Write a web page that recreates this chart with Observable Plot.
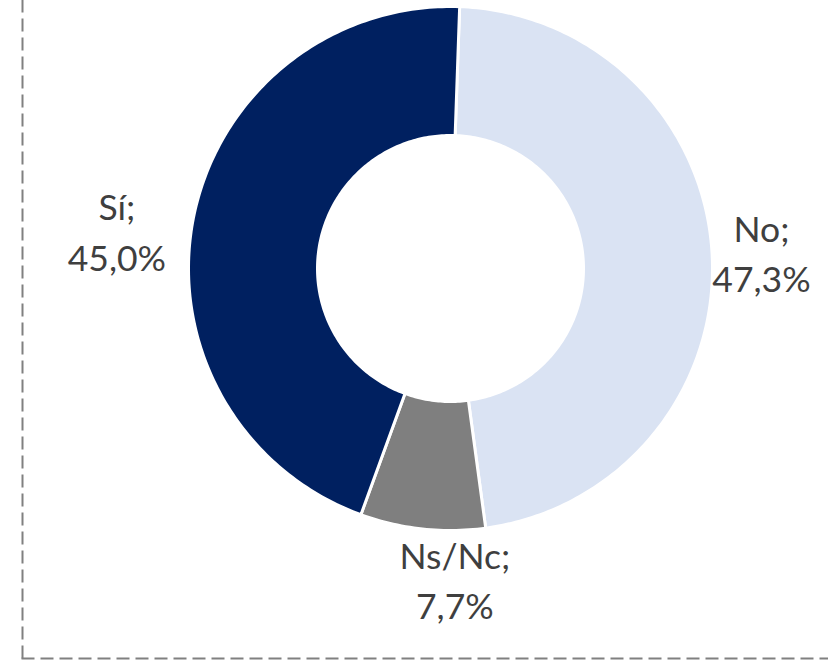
<!DOCTYPE html>
<html>
<head>
<meta charset="utf-8">
<script src="https://cdn.jsdelivr.net/npm/d3@7"></script>
<script src="https://cdn.jsdelivr.net/npm/@observablehq/plot@0.6"></script>
<style>
  html, body { margin: 0; padding: 0; background: #fff; }
  #chart { width: 828px; height: 660px; }
</style>
</head>
<body>
<div id="chart"></div>
<script>
// Data
const categories = ["No", "Ns/Nc", "Sí"];
const values = [47.3, 7.7, 45.0];
const valueLabels = ["47,3%", "7,7%", "45,0%"];
const colors = ["#DAE3F3", "#7F7F7F", "#002060"];

const W = 828, H = 660;
const cx = 450, cy = 268, R = 262;   // layout (pixels)
const innerRatio = 133 / 262;
const mL = 22, mB = 2;

const rows = categories.map((c, i) => ({category: c, value: values[i], label: `${c};\n${valueLabels[i]}`}));
const a0 = 2 * Math.PI / 180;
const pie = d3.pie().sort(null).value(d => d.value).startAngle(a0).endAngle(a0 + 2 * Math.PI);
const arcs = pie(rows);

// Build slice outlines (unit radius) from the pie angles
const pts = [];
for (const a of arcs) {
  const n = Math.max(8, Math.ceil((a.endAngle - a.startAngle) * 60));
  for (let k = 0; k <= n; k++) {
    const t = a.startAngle + (a.endAngle - a.startAngle) * k / n;
    pts.push({category: a.data.category, x: Math.sin(t), y: Math.cos(t)});
  }
  for (let k = n; k >= 0; k--) {
    const t = a.startAngle + (a.endAngle - a.startAngle) * k / n;
    pts.push({category: a.data.category, x: innerRatio * Math.sin(t), y: innerRatio * Math.cos(t)});
  }
}
const labelR = 1.2;
const labels = arcs.map(a => {
  const m = (a.startAngle + a.endAngle) / 2;
  return {category: a.data.category, label: a.data.label, x: labelR * Math.sin(m), y: labelR * Math.cos(m)};
});

const textStyle = {
  text: "label", fontSize: 35.5, fill: "#3F3F3F", lineHeight: 1.42,
  textAnchor: "middle", lineAnchor: "middle", fontFamily: "Lato, 'Open Sans', sans-serif"
};

const chart = Plot.plot({
  width: W, height: H,
  marginLeft: mL, marginRight: 0, marginTop: 0, marginBottom: mB,
  x: {domain: [(mL - cx) / R, (W - cx) / R], axis: null},
  y: {domain: [-(H - mB - cy) / R, cy / R], axis: null},
  color: {domain: categories, range: colors},
  style: {background: "#fff"},
  marks: [
    Plot.frame({anchor: "left", stroke: "#808080", strokeWidth: 2, strokeDasharray: "11,8"}),
    Plot.frame({anchor: "bottom", stroke: "#808080", strokeWidth: 2, strokeDasharray: "11,8"}),
    Plot.line(pts, {x: "x", y: "y", z: "category", fill: "category", stroke: "#fff", strokeWidth: 3, curve: "linear-closed"}),
    Plot.text(labels.filter(d => d.category === "No"), {x: "x", y: "y", ...textStyle, dx: -3, dy: -2}),
    Plot.text(labels.filter(d => d.category === "Ns/Nc"), {x: "x", y: "y", ...textStyle, dx: 38, dy: -3}),
    Plot.text(labels.filter(d => d.category === "Sí"), {x: "x", y: "y", ...textStyle, dx: -25, dy: 21})
  ]
});
document.getElementById("chart").appendChild(chart);
</script>
</body>
</html>
